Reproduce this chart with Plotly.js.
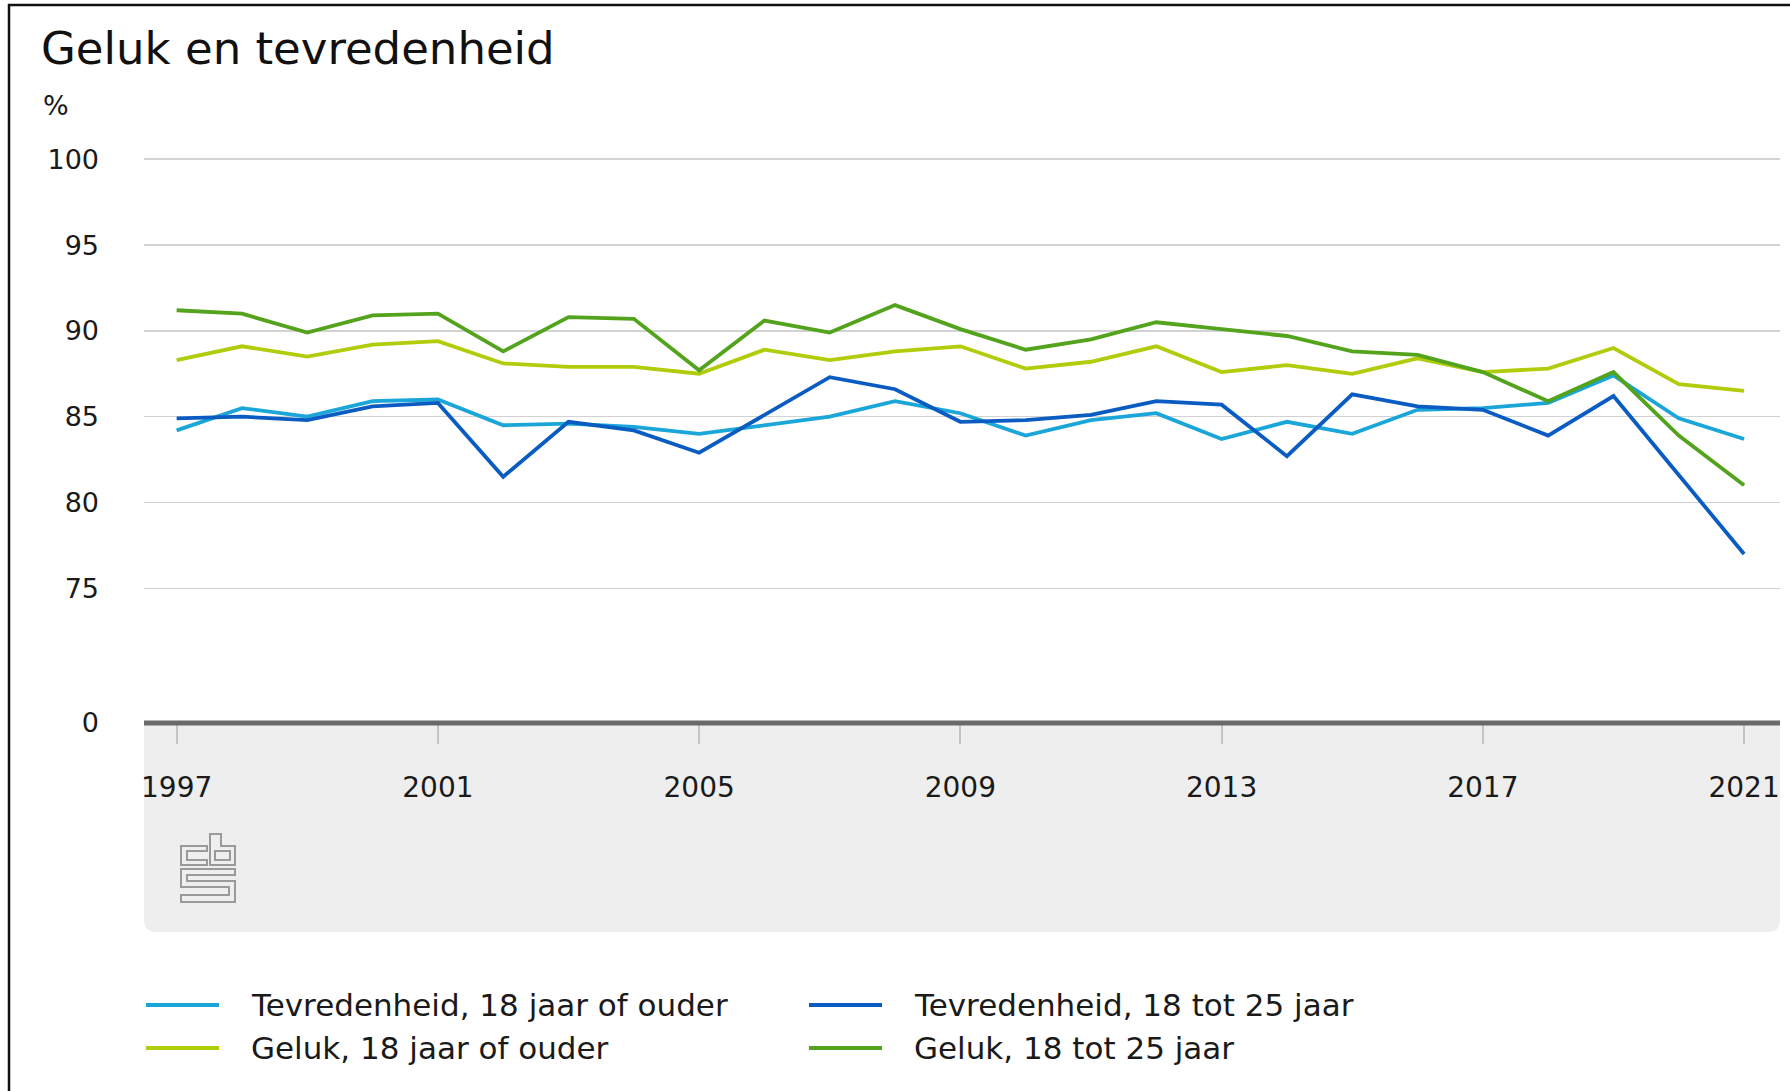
<!DOCTYPE html>
<html>
<head>
<meta charset="utf-8">
<script src="https://cdn.plot.ly/plotly-3.0.1.min.js"></script>
<style>
html,body{margin:0;padding:0;background:#fff;}
#chart{width:1790px;height:1091px;}
</style>
</head>
<body>
<div id="chart"></div>
<script>
// ---- data ----
const years = [1997,1998,1999,2000,2001,2002,2003,2004,2005,2006,2007,2008,2009,2010,2011,2012,2013,2014,2015,2016,2017,2018,2019,2020,2021];
const tevredenheid18plus  = [84.2,85.5,85.0,85.9,86.0,84.5,84.6,84.4,84.0,84.5,85.0,85.9,85.2,83.9,84.8,85.2,83.7,84.7,84.0,85.4,85.5,85.8,87.4,84.9,83.7];
const tevredenheid18tot25 = [84.9,85.0,84.8,85.6,85.8,81.5,84.7,84.2,82.9,85.1,87.3,86.6,84.7,84.8,85.1,85.9,85.7,82.7,86.3,85.6,85.4,83.9,86.2,81.6,77.0];
const geluk18plus         = [88.3,89.1,88.5,89.2,89.4,88.1,87.9,87.9,87.5,88.9,88.3,88.8,89.1,87.8,88.2,89.1,87.6,88.0,87.5,88.4,87.6,87.8,89.0,86.9,86.5];
const geluk18tot25        = [91.2,91.0,89.9,90.9,91.0,88.8,90.8,90.7,87.7,90.6,89.9,91.5,90.1,88.9,89.5,90.5,90.1,89.7,88.8,88.6,87.6,85.9,87.6,83.9,81.0];
const seriesNames = ['Tevredenheid, 18 jaar of ouder','Tevredenheid, 18 tot 25 jaar','Geluk, 18 jaar of ouder','Geluk, 18 tot 25 jaar'];
const seriesColors = ['#1aa6d9','#0a5cc2','#b0cc0a','#53a31d'];
const xTickVals = [1997,2001,2005,2009,2013,2017,2021];
const axisBreakValue = 67.15; // value at which the broken axis shows "0"
const yTickVals = [axisBreakValue,75,80,85,90,95,100];
const yTickText = ['0','75','80','85','90','95','100'];
const titleText = 'Geluk en tevredenheid';
const unitText = '%';

// ---- layout helpers ----
const W = 1790, H = 1091;
const M = {l:144, r:10, t:151, b:368};
const pw = W - M.l - M.r, ph = H - M.t - M.b;
const PX = x => (x - M.l) / pw;
const PY = y => (H - M.b - y) / ph;
function pathFrom(pts, close){
  return pts.map((p,i)=> (i?'L':'M') + PX(p[0]).toFixed(5) + ',' + PY(p[1]).toFixed(5)).join(' ') + (close?' Z':'');
}

const FONT = 'DejaVu Sans, Liberation Sans, Arial, sans-serif';
const allSeries = [tevredenheid18plus, tevredenheid18tot25, geluk18plus, geluk18tot25];

const traces = allSeries.map((vals,i)=>({
  type:'scatter', mode:'lines', x: years, y: vals, name: seriesNames[i],
  line:{color: seriesColors[i], width:3.8}, hoverinfo:'skip'
}));

const shapes = [];
// grey panel below the axis with rounded bottom corners
const r = 12;
shapes.push({type:'path', xref:'paper', yref:'paper', layer:'below', line:{width:0}, fillcolor:'#eeeeee',
  path: `M${PX(144)},${PY(723)} L${PX(1780)},${PY(723)} L${PX(1780)},${PY(932-r)} Q${PX(1780)},${PY(932)} ${PX(1780-r)},${PY(932)} L${PX(144+r)},${PY(932)} Q${PX(144)},${PY(932)} ${PX(144)},${PY(932-r)} Z`});
// thick zero axis line
shapes.push({type:'line', xref:'paper', yref:'paper', x0:PX(144), x1:PX(1780), y0:PY(723), y1:PY(723), line:{color:'#6a6a6a', width:5}});
// frame
shapes.push({type:'line', xref:'paper', yref:'paper', x0:PX(9), x1:PX(9), y0:PY(4), y1:PY(1091), line:{color:'#111', width:2.5}});
shapes.push({type:'line', xref:'paper', yref:'paper', x0:PX(8), x1:PX(1790), y0:PY(5), y1:PY(5), line:{color:'#111', width:2.5}});
// logo (approximation)
const logoStyle = {color:'#9a9a9a', width:2};
const logoParts = [
  [[207,846],[181,846],[181,865],[207,865],[207,860],[187,860],[187,851],[207,851]],
  [[210,865],[210,834],[221,834],[221,846],[235,846],[235,865]],
  [[215,851],[230,851],[230,860],[215,860]],
  [[235,869],[181,869],[181,887],[229,887],[229,895],[181,895],[181,902],[235,902],[235,881],[187,881],[187,875],[235,875]]
];
logoParts.forEach(p=>shapes.push({type:'path', xref:'paper', yref:'paper', path:pathFrom(p,true), line:logoStyle, fillcolor:'rgba(0,0,0,0)'}));

// manual legend
const legendPos = [[146,1005],[809,1005],[146,1048],[809,1048]];
const annotations = [];
seriesNames.forEach((n,i)=>{
  const [lx,ly] = legendPos[i];
  shapes.push({type:'line', xref:'paper', yref:'paper', x0:PX(lx), x1:PX(lx+73), y0:PY(ly), y1:PY(ly), line:{color:seriesColors[i], width:4}});
  annotations.push({xref:'paper', yref:'paper', x:PX(lx+103), y:PY(ly), xanchor:'left', yanchor:'middle', showarrow:false,
    text:n, font:{family:FONT, size:31, color:'#1a1a1a'}});
});
annotations.push({xref:'paper', yref:'paper', x:PX(41), y:PY(106), xanchor:'left', yanchor:'middle', showarrow:false,
  text:unitText, font:{family:FONT, size:27, color:'#1a1a1a'}});

const layout = {
  width:W, height:H, margin:M, showlegend:false,
  paper_bgcolor:'#ffffff', plot_bgcolor:'rgba(0,0,0,0)',
  title:{text:titleText, font:{family:FONT, size:45, color:'#111'}, xref:'container', yref:'container',
    x:41/W, xanchor:'left', y:1-48/H, yanchor:'middle'},
  xaxis:{range:[1996.5,2021.55], tickvals:xTickVals, ticktext:xTickVals.map(String), showgrid:false, zeroline:false,
    showline:false, ticks:'outside', ticklen:20, tickwidth:2, tickcolor:'#c4c4c4', ticklabelstandoff:19,
    tickfont:{family:FONT, size:28, color:'#1a1a1a'}},
  yaxis:{range:[axisBreakValue, 100.48], tickvals:yTickVals, ticktext:yTickText, showgrid:true, gridcolor:'#d2d2d2', gridwidth:1.5,
    zeroline:false, showline:false, ticks:'', ticklabelstandoff:44,
    tickfont:{family:FONT, size:27, color:'#1a1a1a'}},
  shapes:shapes, annotations:annotations
};
Plotly.newPlot('chart', traces, layout, {displayModeBar:false, staticPlot:true});
</script>
</body>
</html>
